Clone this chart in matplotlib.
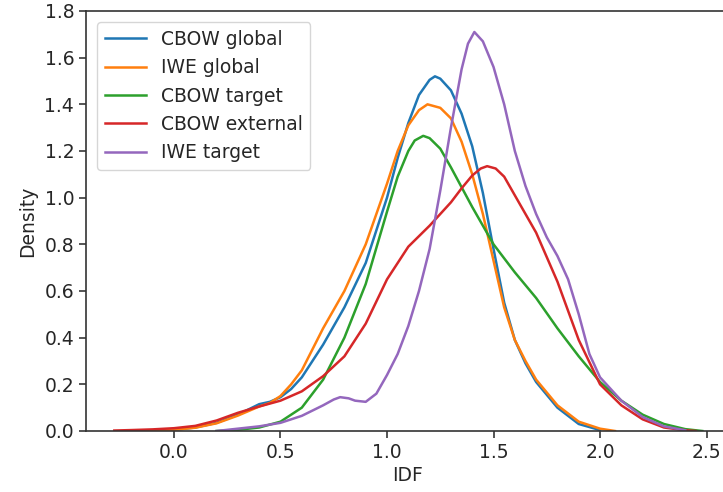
import numpy as np
import matplotlib
matplotlib.use("Agg")
from matplotlib import pyplot as plt

# density curves (x = IDF, y = density)
cbow_global_x = [-0.2, -0.1, 0.0, 0.1, 0.2, 0.3, 0.4, 0.45, 0.5, 0.55, 0.6, 0.7, 0.8, 0.9, 1.0, 1.05, 1.1,
                 1.15, 1.2, 1.225, 1.25, 1.3, 1.35, 1.4, 1.45, 1.5, 1.55, 1.6, 1.65, 1.7, 1.8, 1.9, 2.0]
cbow_global_y = [0.0, 0.002, 0.005, 0.015, 0.035, 0.07, 0.115, 0.125, 0.145, 0.18, 0.23, 0.37, 0.53, 0.72,
                 1.0, 1.17, 1.32, 1.44, 1.505, 1.52, 1.51, 1.46, 1.36, 1.22, 1.02, 0.78, 0.55, 0.39, 0.29,
                 0.21, 0.1, 0.03, 0.004]

iwe_global_x = [-0.15, -0.1, 0.0, 0.1, 0.2, 0.3, 0.4, 0.45, 0.5, 0.55, 0.6, 0.7, 0.8, 0.9, 1.0, 1.05, 1.1,
                1.15, 1.19, 1.25, 1.3, 1.35, 1.4, 1.45, 1.5, 1.55, 1.6, 1.65, 1.7, 1.8, 1.9, 2.0, 2.07]
iwe_global_y = [0.0, 0.002, 0.005, 0.014, 0.033, 0.066, 0.105, 0.12, 0.15, 0.2, 0.26, 0.44, 0.6, 0.8,
                1.06, 1.2, 1.31, 1.375, 1.4, 1.385, 1.34, 1.24, 1.1, 0.93, 0.73, 0.53, 0.39, 0.3, 0.22,
                0.11, 0.04, 0.01, 0.0]

cbow_target_x = [0.2, 0.3, 0.4, 0.5, 0.6, 0.7, 0.8, 0.9, 1.0, 1.05, 1.1, 1.13, 1.17, 1.2, 1.25, 1.3,
                 1.4, 1.5, 1.6, 1.7, 1.8, 1.9, 2.0, 2.1, 2.2, 2.3, 2.4, 2.48]
cbow_target_y = [0.0, 0.005, 0.015, 0.04, 0.1, 0.22, 0.4, 0.63, 0.94, 1.09, 1.2, 1.245, 1.265, 1.255,
                 1.21, 1.13, 0.96, 0.8, 0.68, 0.57, 0.44, 0.32, 0.21, 0.13, 0.07, 0.03, 0.008, 0.0]

cbow_external_x = [-0.28, -0.2, -0.1, 0.0, 0.1, 0.2, 0.3, 0.4, 0.5, 0.6, 0.7, 0.8, 0.9, 1.0, 1.1,
                   1.2, 1.3, 1.35, 1.4, 1.44, 1.47, 1.51, 1.55, 1.6, 1.7, 1.8, 1.9, 2.0, 2.1, 2.2,
                   2.3, 2.4, 2.45]
cbow_external_y = [0.002, 0.004, 0.007, 0.012, 0.022, 0.045, 0.078, 0.105, 0.13, 0.17, 0.235, 0.32,
                   0.46, 0.65, 0.79, 0.88, 0.98, 1.04, 1.095, 1.125, 1.135, 1.125, 1.09, 1.01, 0.85,
                   0.64, 0.39, 0.2, 0.11, 0.05, 0.015, 0.003, 0.0]

iwe_target_x = [0.2, 0.3, 0.4, 0.5, 0.6, 0.7, 0.75, 0.78, 0.82, 0.85, 0.9, 0.95, 1.0, 1.05, 1.1, 1.15,
                1.2, 1.25, 1.3, 1.35, 1.38, 1.41, 1.45, 1.5, 1.55, 1.6, 1.65, 1.7, 1.75, 1.8, 1.85,
                1.9, 1.95, 2.0, 2.1, 2.2, 2.3, 2.4]
iwe_target_y = [0.0, 0.01, 0.02, 0.035, 0.065, 0.11, 0.135, 0.145, 0.14, 0.13, 0.125, 0.16, 0.24, 0.33,
                0.45, 0.6, 0.78, 1.03, 1.3, 1.55, 1.66, 1.71, 1.67, 1.56, 1.4, 1.2, 1.05, 0.93, 0.83,
                0.75, 0.65, 0.5, 0.33, 0.23, 0.13, 0.06, 0.02, 0.003]

series = [
    ("CBOW global", cbow_global_x, cbow_global_y, "#1f77b4"),
    ("IWE global", iwe_global_x, iwe_global_y, "#ff7f0e"),
    ("CBOW target", cbow_target_x, cbow_target_y, "#2ca02c"),
    ("CBOW external", cbow_external_x, cbow_external_y, "#d62728"),
    ("IWE target", iwe_target_x, iwe_target_y, "#9467bd"),
]

plt.rcParams["font.size"] = 13.5
plt.rcParams["text.color"] = "#262626"
plt.rcParams["axes.labelcolor"] = "#262626"
plt.rcParams["xtick.color"] = "#262626"
plt.rcParams["ytick.color"] = "#262626"

fig = plt.figure(figsize=(7.23, 4.92), dpi=100)
ax = fig.add_axes([86 / 723, 61 / 492, 644 / 723, 420 / 492])

for name, xs, ys, col in series:
    ax.plot(xs, ys, color=col, lw=1.8, label=name)

ax.set_xlim(-0.413, 2.61)
ax.set_ylim(0, 1.8)
ax.set_xticks([0.0, 0.5, 1.0, 1.5, 2.0, 2.5])
ax.set_yticks(np.arange(0, 1.81, 0.2))
ax.tick_params(length=5, width=1.1)
for s in ax.spines.values():
    s.set_linewidth(1.2)
    s.set_color("#333333")
ax.set_xlabel("IDF", labelpad=3)
ax.set_ylabel("Density", labelpad=5)
ax.legend(loc="upper left", handlelength=2.2, borderaxespad=0.6)

fig.savefig("out.png", dpi=100)
